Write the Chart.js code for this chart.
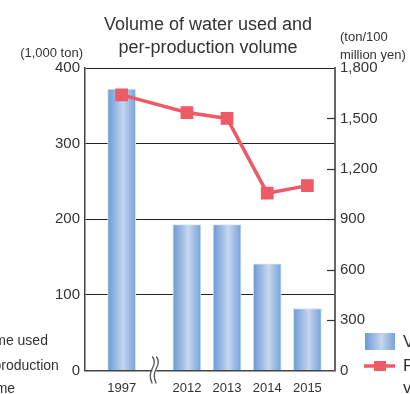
<!DOCTYPE html>
<html>
<head>
<meta charset="utf-8">
<script src="https://cdn.jsdelivr.net/npm/chart.js@4/dist/chart.umd.min.js"></script>
<style>
  html, body { margin: 0; padding: 0; background: #fff; }
  #wrap { width: 410px; height: 394px; position: relative; }
</style>
</head>
<body>
<div id="wrap"><canvas id="waterChart"></canvas></div>
<script>
// datos
const years = ['1997', '2012', '2013', '2014', '2015'];
const waterVolume = [372, 193, 193, 141, 82];          // 1,000 ton
const perProduction = [1640, 1535, 1500, 1055, 1100]; // ton / 100 million yen
const leftTicks = [0, 100, 200, 300, 400];
const rightTicks = [0, 300, 600, 900, 1200, 1500, 1800];
const titleLines = ['Volume of water used and', 'per-production volume'];
const leftUnit = '(1,000 ton)';
const rightUnit = ['(ton/100', 'million yen)'];
const legendBar = 'Volume of water used';
const legendLine = ['Per-production', 'volume'];
const leftNote = ['Volume used', 'Per-production', 'volume'];

// hueco del corte entre 1997 y 2012
const BREAK_GAP = 0.625;
const xPos = years.map((y, i) => i + (i > 0 ? BREAK_GAP : 0));

const FONT = "'Liberation Sans', Arial, sans-serif";
const TEXT = '#333';
const RED = '#ee5a66';

function barGradient(ctx, cx, half) {
  const g = ctx.createLinearGradient(cx - half, 0, cx + half, 0);
  g.addColorStop(0, '#6a9ad6');
  g.addColorStop(0.55, '#c6d6ee');
  g.addColorStop(1, '#76a2da');
  return g;
}

const extras = {
  id: 'extras',
  afterDraw(chart) {
    const ctx = chart.ctx;
    const area = chart.chartArea;
    ctx.save();
    ctx.fillStyle = TEXT;
    ctx.textBaseline = 'middle';

    // titulo
    ctx.font = '18px ' + FONT;
    ctx.textAlign = 'center';
    ctx.fillText(titleLines[0], 208, 25);
    ctx.fillText(titleLines[1], 208, 48);

    // unidades
    ctx.font = '13px ' + FONT;
    ctx.textAlign = 'right';
    ctx.fillText(leftUnit, 83, 53);
    ctx.textAlign = 'left';
    ctx.fillText(rightUnit[0], 340, 37);
    ctx.fillText(rightUnit[1], 340, 55);

    // ticks internos del eje derecho
    const y2 = chart.scales.y2;
    ctx.strokeStyle = '#333';
    ctx.lineWidth = 1.2;
    rightTicks.forEach(v => {
      if (v === 0 || v === 1800) return;
      const py = Math.round(y2.getPixelForValue(v)) + 0.5;
      ctx.beginPath();
      ctx.moveTo(area.right - 8, py);
      ctx.lineTo(area.right, py);
      ctx.stroke();
    });

    // corte del eje x
    const bx = chart.scales.x.getPixelForValue((xPos[0] + xPos[1]) / 2);
    const by = area.bottom;
    ctx.fillStyle = '#fff';
    ctx.fillRect(bx - 2, by - 3, 4, 6);
    ctx.strokeStyle = '#555';
    ctx.lineWidth = 1.3;
    [-2, 2].forEach(dx => {
      const x0 = bx + dx;
      ctx.beginPath();
      ctx.moveTo(x0, by - 14);
      ctx.quadraticCurveTo(x0 + 4, by - 9, x0, by - 2);
      ctx.quadraticCurveTo(x0 - 4, by + 5, x0, by + 13);
      ctx.stroke();
    });

    // leyenda derecha (cortada por el borde)
    ctx.fillStyle = barGradient(ctx, 380, 15);
    ctx.fillRect(365, 333, 30, 17);
    ctx.strokeStyle = RED;
    ctx.lineWidth = 3.5;
    ctx.beginPath();
    ctx.moveTo(364, 366);
    ctx.lineTo(395, 366);
    ctx.stroke();
    ctx.fillStyle = RED;
    ctx.fillRect(374, 361, 12, 10);
    ctx.fillStyle = TEXT;
    ctx.font = '17px ' + FONT;
    ctx.textAlign = 'left';
    ctx.fillText(legendBar, 403, 342);
    ctx.fillText(legendLine[0], 403, 366);
    ctx.fillText(legendLine[1], 403, 388);

    // texto izquierdo (cortado por el borde)
    ctx.font = '14px ' + FONT;
    ctx.fillText(leftNote[0], -33, 341);
    ctx.fillText(leftNote[1], -33, 366);
    ctx.fillText(leftNote[2], -30, 389);
    ctx.restore();
  }
};

const ctx = document.getElementById('waterChart').getContext('2d');

new Chart(ctx, {
  type: 'bar',
  data: {
    datasets: [
      {
        type: 'line',
        label: legendLine.join(' '),
        data: years.map((y, i) => ({ x: xPos[i], y: perProduction[i] })),
        yAxisID: 'y2',
        borderColor: RED,
        backgroundColor: RED,
        borderWidth: 3.5,
        pointStyle: 'rect',
        pointRadius: 9,
        pointHoverRadius: 9,
        pointBorderWidth: 0,
        tension: 0,
        order: 0
      },
      {
        label: legendBar,
        data: years.map((y, i) => ({ x: xPos[i], y: waterVolume[i] })),
        yAxisID: 'y',
        backgroundColor: function(c) {
          const chart = c.chart;
          if (!chart.chartArea || c.type !== 'data') return '#8fb3e2';
          const cx = chart.scales.x.getPixelForValue(c.raw.x);
          return barGradient(chart.ctx, cx, 14);
        },
        borderColor: '#d4e2f5',
        borderWidth: 1,
        barThickness: 28,
        order: 1
      }
    ]
  },
  options: {
    responsive: true,
    maintainAspectRatio: false,
    animation: false,
    layout: { padding: { top: 68, left: 0, right: 0, bottom: 0 } },
    plugins: {
      legend: { display: false },
      title: { display: false },
      tooltip: { enabled: false }
    },
    scales: {
      x: {
        type: 'linear',
        min: xPos[0] - 0.9125,
        max: xPos[xPos.length - 1] + 0.6875,
        offset: false,
        grid: { display: false, drawTicks: false },
        border: { color: '#444', width: 1.5 },
        afterBuildTicks: function(scale) {
          scale.ticks = xPos.map(v => ({ value: v }));
        },
        afterFit: function(scale) { scale.height = 23.5; },
        ticks: {
          autoSkip: false,
          maxRotation: 0,
          padding: 10,
          color: TEXT,
          font: { family: FONT, size: 13 },
          callback: function(value) {
            const i = xPos.indexOf(value);
            return i >= 0 ? years[i] : '';
          }
        }
      },
      y: {
        position: 'left',
        min: 0,
        max: 400,
        afterBuildTicks: function(scale) {
          scale.ticks = leftTicks.map(v => ({ value: v }));
        },
        afterFit: function(scale) { scale.width = 85; },
        grid: { color: '#222', lineWidth: 1, drawTicks: false },
        border: { color: '#444', width: 1.5 },
        ticks: {
          padding: 5,
          color: TEXT,
          font: { family: FONT, size: 15 }
        }
      },
      y2: {
        position: 'right',
        min: 0,
        max: 1800,
        afterBuildTicks: function(scale) {
          scale.ticks = rightTicks.map(v => ({ value: v }));
        },
        afterFit: function(scale) { scale.width = 75; },
        grid: { drawOnChartArea: false, drawTicks: false },
        border: { color: '#666', width: 2 },
        ticks: {
          padding: 5,
          color: TEXT,
          font: { family: FONT, size: 15 },
          callback: function(value) {
            return value.toLocaleString('en-US');
          }
        }
      }
    }
  },
  plugins: [extras]
});
</script>
</body>
</html>
